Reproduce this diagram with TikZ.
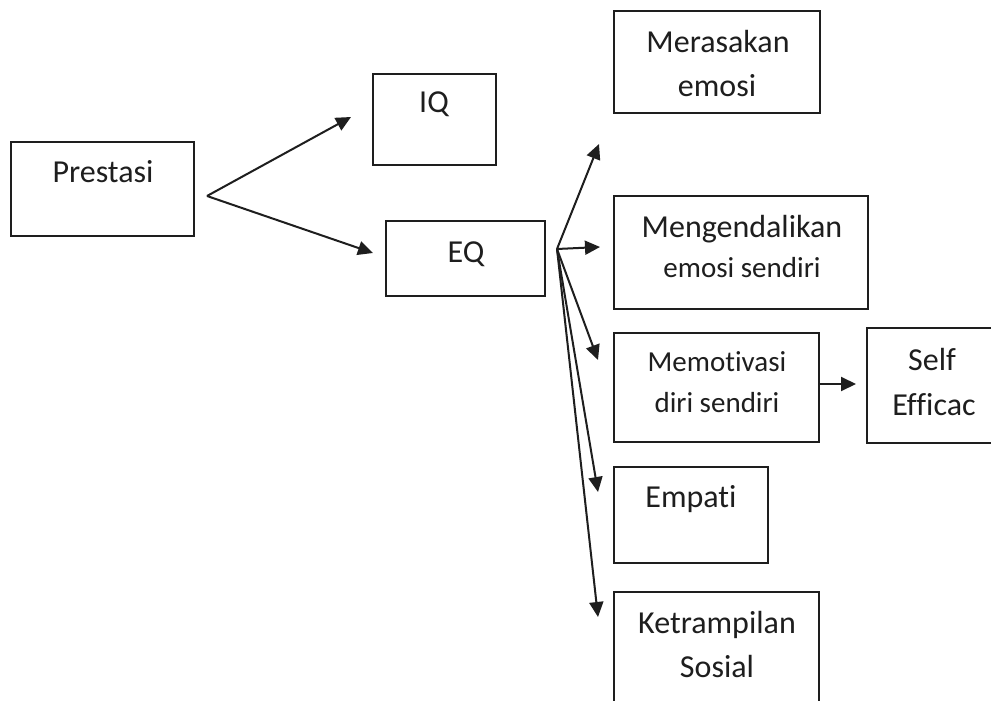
\documentclass[tikz,border=0pt]{standalone}
\usepackage{fontspec}
\setmainfont{Carlito}[RawFeature={-liga;-clig;-dlig}]
\usetikzlibrary{arrows.meta}
\definecolor{ink}{HTML}{1E1E1E}
\tikzset{
  box/.style={draw=ink, line width=1pt, inner sep=0pt},
  lbl/.style={anchor=base, inner sep=0pt, text=ink, font=\fontsize{16}{19}\selectfont},
  lbls/.style={anchor=base, inner sep=0pt, text=ink, font=\fontsize{14.5}{17}\selectfont},
  arr/.style={draw=ink, line width=1pt, -{Triangle[length=7.5pt,width=7pt]}},
}
\begin{document}
\begin{tikzpicture}[x=0.5pt,y=-0.5pt]
\useasboundingbox (0,0) rectangle (991,701);
\fill[white] (0,0) rectangle (991,701);
\clip (0,0) rectangle (991,701);
% boxes
\node[box, minimum width=91.5pt, minimum height=47pt] (pres) at (102.5,189) {};
\node[box, minimum width=61.5pt, minimum height=45.5pt] (iq) at (434.5,119.5) {};
\node[box, minimum width=79.5pt, minimum height=37.5pt] (eq) at (465.5,258.5) {};
\node[box, minimum width=103pt, minimum height=51pt] (mer) at (717,62) {};
\node[box, minimum width=127pt, minimum height=56.5pt] (men) at (741,252.5) {};
\node[box, minimum width=102.5pt, minimum height=54.5pt] (mot) at (716.5,387.5) {};
\node[box, minimum width=80pt, minimum height=57.5pt] (self) at (947,385.5) {};
\node[box, minimum width=77pt, minimum height=48pt] (emp) at (691,515) {};
\node[box, minimum width=102.5pt, minimum height=55pt] (ket) at (716.5,647) {};
% texts
\node[lbl] (presT) at (103,183) {Prestasi};
\node[lbl] (iqT) at (434,113) {IQ};
\node[lbl] (eqT) at (466,263) {EQ};
\node[lbl] (merA) at (718,53) {Merasakan};
\node[lbl] (merB) at (717,97) {emosi};
\node[lbl] (menA) at (742,237) {Mengendalikan};
\node[lbls] (menB) at (742,278) {emosi sendiri};
\node[lbls] (motA) at (717,371) {Memotivasi};
\node[lbls] (motB) at (717,412) {diri sendiri};
\node[lbl] (selfA) at (932,370) {Self};
\node[lbl] (selfB) at (934,415) {Efficac};
\node[lbl] (empT) at (691,507) {Empati};
\node[lbl] (ketA) at (717,633) {Ketrampilan};
\node[lbl] (ketB) at (717,677) {Sosial};
% connector points
\coordinate (apex) at (207,196);
\coordinate (iqTip) at (351,117);
\coordinate (eqTip) at (373,253);
\coordinate (fan) at (557,249);
\coordinate (merTip) at (599,144);
\coordinate (menTip) at (600,247);
\coordinate (motTip) at (598,360);
\coordinate (empTip) at (598,492);
\coordinate (ketTip) at (598,617);
\coordinate (motOut) at (819,384);
\coordinate (selfTip) at (856,384);
% connectors
\draw[arr] (apex) -- (iqTip);
\draw[arr] (apex) -- (eqTip);
\draw[arr] (fan) -- (merTip);
\draw[arr] (fan) -- (menTip);
\draw[arr] (fan) -- (motTip);
\draw[arr] (fan) -- (empTip);
\draw[arr] (fan) -- (ketTip);
\draw[arr] (motOut) -- (selfTip);
\end{tikzpicture}
\end{document}
